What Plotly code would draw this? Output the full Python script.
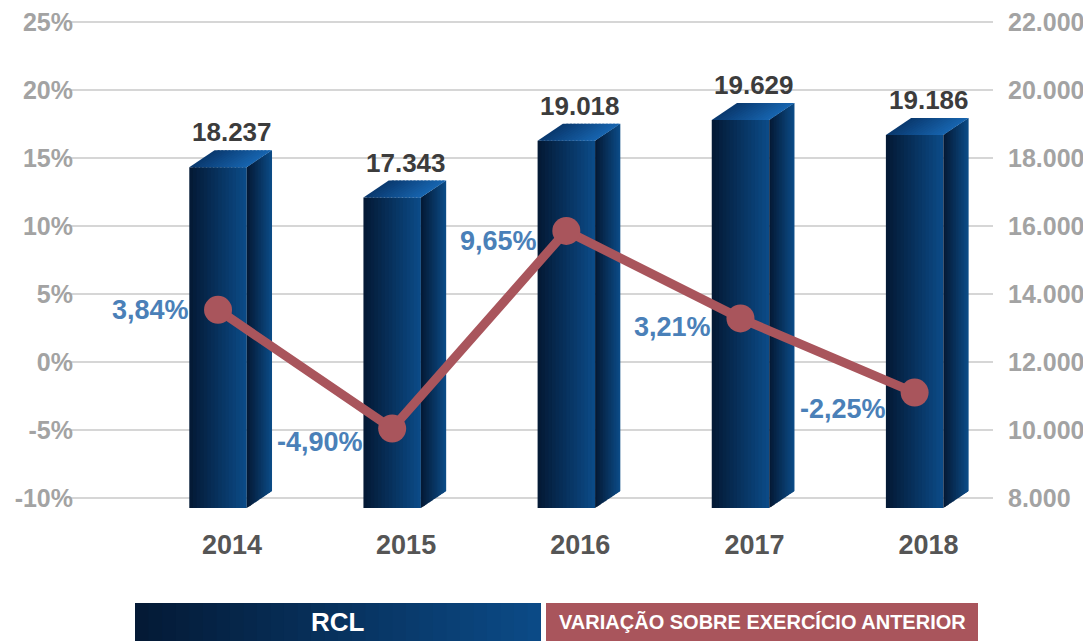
import plotly.graph_objects as go

# ---- data ----
years = ["2014", "2015", "2016", "2017", "2018"]
rcl = [18237, 17343, 19018, 19629, 19186]
variacao = [3.84, -4.90, 9.65, 3.21, -2.25]
left_ticks = [-10, -5, 0, 5, 10, 15, 20, 25]
right_ticks = [8000, 10000, 12000, 14000, 16000, 18000, 20000, 22000]

# ---- style ----
FONT = "Liberation Sans"
LINE_COLOR = "#a9555c"
PCT_COLOR = "#4a80b8"
VAL_COLOR = "#3c3c3c"
TICK_COLOR = "#a3a3a3"
YEAR_COLOR = "#555555"
GRID = "#d6d6d6"
PCT_LABEL_YSHIFT = [0, -13, -10, -9, -16]   # label placement tweaks (px)

RCL_RANGE = [7700, 22100]
PCT_RANGE = [-10 + (RCL_RANGE[0] - 8000) / 400.0, -10 + (RCL_RANGE[1] - 8000) / 400.0]
X_RANGE = [-0.85, 4.45]

HALF_W = 0.165   # half width of front face (x units)
DX = 0.145       # depth offset in x
DY = 500         # depth offset in RCL units
NSTRIP = 16

OFF = 8                      # page body margin
W, H = 1091 - OFF, 641 - OFF
ML, MT = 70 - OFF, 19 - OFF
MR = W - (993 - OFF)
MB = H - (508 - OFF)


def hex2rgb(h):
    h = h.lstrip("#")
    return tuple(int(h[i:i + 2], 16) for i in (0, 2, 4))


def lerp(c1, c2, t):
    a, b = hex2rgb(c1), hex2rgb(c2)
    return "rgb(%d,%d,%d)" % tuple(round(a[i] + (b[i] - a[i]) * t) for i in range(3))


FRONT = ("#041a36", "#0b4a86")
SIDE = ("#041a36", "#0c4b86")
TOP = ("#0a3a70", "#1764ae")

fig = go.Figure()
shapes = []


def poly(pts, color, xref="x", yref="y", layer="between"):
    path = "M " + " L ".join("%f,%f" % p for p in pts) + " Z"
    return dict(type="path", path=path, xref=xref, yref=yref, fillcolor=color,
                line=dict(width=0), layer=layer)


base = RCL_RANGE[0]
for i, v in enumerate(rcl):
    xl, xr = i - HALF_W, i + HALF_W
    w = xr - xl
    ftop = v - DY
    eps = w / NSTRIP * 0.6
    for k in range(NSTRIP):
        t = k / (NSTRIP - 1)
        a = xl + w * k / NSTRIP
        b = min(xl + w * (k + 1) / NSTRIP + eps, xr)
        shapes.append(poly([(a, base), (b, base), (b, ftop), (a, ftop)], lerp(*FRONT, t)))
    for k in range(NSTRIP):
        t = k / (NSTRIP - 1)
        u0 = k / NSTRIP
        u1 = min((k + 1) / NSTRIP + 0.6 / NSTRIP, 1.0)
        xa, xb = xr + DX * u0, xr + DX * u1
        shapes.append(poly([(xa, base + DY * u0), (xb, base + DY * u1),
                            (xb, ftop + DY * u1), (xa, ftop + DY * u0)], lerp(*SIDE, t)))
        a = xl + w * u0
        b = xl + w * u1
        shapes.append(poly([(a, ftop), (b, ftop), (b + DX, v), (a + DX, v)], lerp(*TOP, t)))

# variation line (left axis)
fig.add_trace(go.Scatter(x=list(range(len(years))), y=variacao, mode="lines+markers",
                         line=dict(color=LINE_COLOR, width=9),
                         marker=dict(color=LINE_COLOR, size=28),
                         showlegend=False, yaxis="y2"))

annotations = []
for i, v in enumerate(rcl):
    annotations.append(dict(x=i + 0.08, y=v, xref="x", yref="y", xanchor="center", yanchor="bottom",
                            text="{:,}".format(v).replace(",", "."), showarrow=False,
                            yshift=1, font=dict(family=FONT, size=26, color=VAL_COLOR, weight="bold")))
for i, p in enumerate(variacao):
    annotations.append(dict(x=i, y=p, xref="x", yref="y2", xanchor="right", yanchor="middle",
                            text=("%.2f" % p).replace(".", ",") + "%", showarrow=False,
                            xshift=-27, yshift=PCT_LABEL_YSHIFT[i],
                            font=dict(family=FONT, size=27, color=PCT_COLOR, weight="bold")))

# ---- legend boxes (bottom) ----
PW = W - ML - MR
PH = H - MT - MB


def px2paper_x(px):
    return (px - OFF - ML) / PW


def py2paper_y(py):
    return (H - MB - (py - OFF)) / PH


lx0, lx1 = px2paper_x(135), px2paper_x(541)
ly0, ly1 = py2paper_y(641), py2paper_y(603)
NL = 30
for k in range(NL):
    t = k / (NL - 1)
    a = lx0 + (lx1 - lx0) * k / NL
    b = min(lx0 + (lx1 - lx0) * (k + 1.6) / NL, lx1)
    shapes.append(dict(type="rect", xref="paper", yref="paper", x0=a, x1=b, y0=ly0, y1=ly1,
                       fillcolor=lerp("#041a36", "#0b4a86", t), line=dict(width=0), layer="above"))
rx0, rx1 = px2paper_x(546), px2paper_x(978)
shapes.append(dict(type="rect", xref="paper", yref="paper", x0=rx0, x1=rx1, y0=ly0, y1=ly1,
                   fillcolor=LINE_COLOR, line=dict(width=0), layer="above"))
ymid = py2paper_y(622)
annotations.append(dict(x=(lx0 + lx1) / 2, y=ymid, xref="paper", yref="paper",
                        xanchor="center", yanchor="middle",
                        text="RCL", showarrow=False,
                        font=dict(family=FONT, size=26, color="white", weight="bold")))
annotations.append(dict(x=(rx0 + rx1) / 2, y=ymid, xref="paper", yref="paper",
                        xanchor="center", yanchor="middle",
                        text="VARIAÇÃO SOBRE EXERCÍCIO ANTERIOR", showarrow=False,
                        font=dict(family=FONT, size=20, color="white", weight="bold")))

fig.update_layout(
    width=W, height=H,
    margin=dict(l=ML, r=MR, t=MT, b=MB),
    paper_bgcolor="white", plot_bgcolor="white",
    shapes=shapes, annotations=annotations,
    xaxis=dict(range=X_RANGE, tickvals=[i + 0.08 for i in range(len(years))], ticktext=years,
               showgrid=False, zeroline=False, showline=False, ticks="", automargin=False,
               ticklabelstandoff=18,
               tickfont=dict(family=FONT, size=27, color=YEAR_COLOR, weight="bold")),
    yaxis=dict(range=RCL_RANGE, tickvals=right_ticks,
               ticktext=["{:,}".format(t).replace(",", ".") for t in right_ticks],
               side="right", showgrid=True, gridcolor=GRID, gridwidth=2,
               zeroline=False, showline=False, automargin=False,
               ticks="", ticklabelstandoff=14,
               tickfont=dict(family=FONT, size=25, color=TICK_COLOR, weight="bold")),
    yaxis2=dict(range=PCT_RANGE, tickvals=left_ticks, ticktext=["%d%%" % t for t in left_ticks],
                overlaying="y", side="left", showgrid=False, zeroline=False, showline=False,
                automargin=False, ticks="", ticklabelstandoff=-4,
                tickfont=dict(family=FONT, size=25, color=TICK_COLOR, weight="bold")),
    showlegend=False,
)

fig.write_html("out.html")
